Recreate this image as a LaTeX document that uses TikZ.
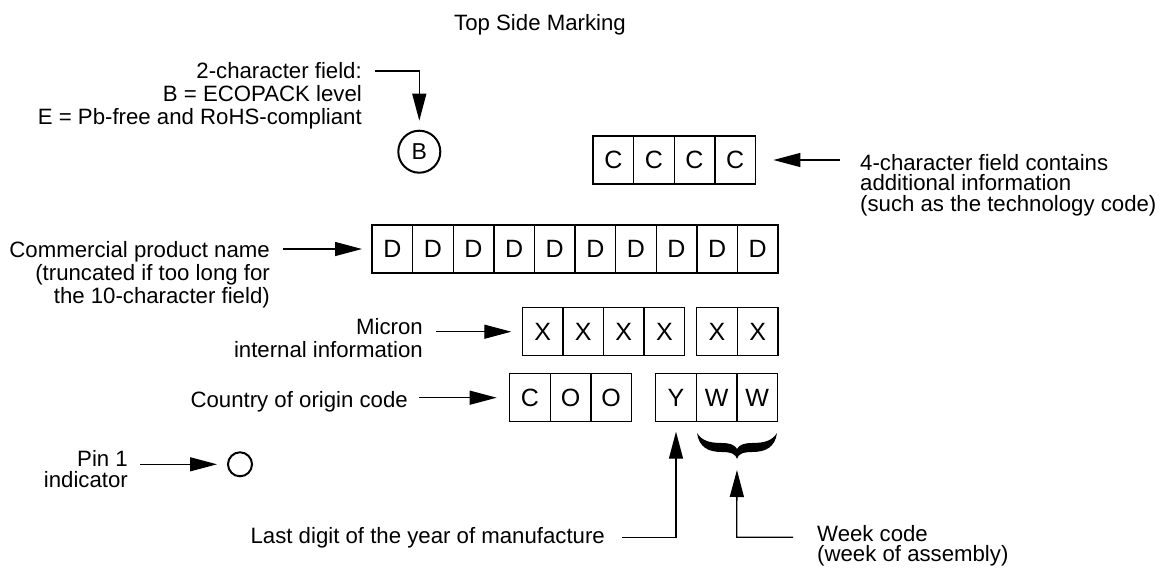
\documentclass[tikz,border=0pt]{standalone}
\usepackage{fontspec}
\setmainfont{Liberation Sans}
\usetikzlibrary{shapes.geometric, arrows.meta, positioning}
\newcommand{\notefont}{\fontsize{22.2}{23}\selectfont}
\newcommand{\notefontb}{\fontsize{22.2}{20.5}\selectfont}
\newcommand{\cellfont}{\fontsize{25}{25}\selectfont}
\tikzstyle{cell} = [rectangle, minimum width=40.6pt, minimum height=48pt, inner sep=0pt, outer sep=0pt, text centered, draw=black, line width=1.4pt, font=\cellfont]
\tikzstyle{ring} = [circle, draw=black, line width=2pt, inner sep=0pt]
\tikzstyle{note} = [inner sep=0pt, font=\notefont]
\tikzstyle{arrow} = [line width=1.3pt, -{Triangle[length=27pt,width=14pt]}]

\begin{document}
\begin{tikzpicture}[x=1pt, y=-1pt]
\useasboundingbox (0,0) rectangle (1159,568);

\node (title) [note] at (540,25) {Top Side Marking};

% 2-character field
\node (bnote) [note, align=right, anchor=east] at (362,96) {2-character field:\\B = ECOPACK level\\E = Pb-free and RoHS-compliant};
\node (bmark) [ring, minimum size=42pt, font=\fontsize{23}{23}\selectfont] at (419.3,151.7) {B};
\coordinate (bcorner) at (419.3,71);

% 4-character field
\node (cc1) [cell] at (613.3,160) {C};
\node (cc2) [cell, right=0pt of cc1] {C};
\node (cc3) [cell, right=0pt of cc2] {C};
\node (cc4) [cell, right=0pt of cc3] {C};
\node (cnote) [note, align=left, anchor=west, font=\notefontb] at (860,185) {4-character field contains\\additional information\\(such as the technology code)};

% product name
\node (dnote) [note, align=right, anchor=east] at (270,275) {Commercial product name\\(truncated if too long for\\the 10-character field)};
\node (d1) [cell] at (392.3,249) {D};
\node (d2) [cell, right=0pt of d1] {D};
\node (d3) [cell, right=0pt of d2] {D};
\node (d4) [cell, right=0pt of d3] {D};
\node (d5) [cell, right=0pt of d4] {D};
\node (d6) [cell, right=0pt of d5] {D};
\node (d7) [cell, right=0pt of d6] {D};
\node (d8) [cell, right=0pt of d7] {D};
\node (d9) [cell, right=0pt of d8] {D};
\node (d10) [cell, right=0pt of d9] {D};

% Micron information
\node (xnote) [note, align=right, anchor=east] at (423,338) {Micron\\internal information};
\node (x1) [cell] at (542.6,331.7) {X};
\node (x2) [cell, right=0pt of x1] {X};
\node (x3) [cell, right=0pt of x2] {X};
\node (x4) [cell, right=0pt of x3] {X};
\node (x5) [cell] at (717,331.7) {X};
\node (x6) [cell, right=0pt of x5] {X};

% origin and date
\node (conote) [note, anchor=east] at (408,402) {Country of origin code};
\node (co1) [cell] at (530,397.7) {C};
\node (co2) [cell, right=0pt of co1] {O};
\node (co3) [cell, right=0pt of co2] {O};
\node (y1) [cell] at (676,397.7) {Y};
\node (w1) [cell, right=0pt of y1] {W};
\node (w2) [cell, right=0pt of w1] {W};

% pin 1
\node (pinnote) [note, align=right, anchor=east, font=\notefontb] at (128,469) {Pin 1\\indicator};
\node (pin) [ring, minimum size=24pt] at (240,464.3) {};

\node (ynote) [note, anchor=east] at (605,537.5) {Last digit of the year of manufacture};
\node (wnote) [note, align=left, anchor=west, font=\notefontb] at (817,546) {Week code\\(week of assembly)};
\coordinate (wcorner) at (736.7,537.3);
\coordinate (bracetip) at (737,459);

\fill (697,433) .. controls (699,447) and (708,452) .. (722,452) .. controls (731,452) and (736,454) .. (bracetip)
  .. controls (738,454) and (743,452) .. (752,452) .. controls (766,452) and (775,447) .. (777,433)
  .. controls (772,441) and (764,443) .. (752,443) .. controls (744,443) and (739,445) .. (737,449)
  .. controls (735,445) and (730,443) .. (722,443) .. controls (710,443) and (702,441) .. (697,433) -- cycle;

\draw [arrow, shorten <=13pt, shorten >=9pt] (bnote.east |- bcorner) -- (bcorner) -- (bmark);
\draw [arrow, shorten <=20pt, shorten >=18pt] (cnote.west |- cc4) -- (cc4);
\draw [arrow, shorten <=13pt, shorten >=10pt] (dnote.east |- d1) -- (d1);
\draw [arrow, shorten <=13pt, shorten >=11pt] (xnote.east |- x1) -- (x1);
\draw [arrow, shorten <=11pt, shorten >=13pt] (conote.east |- co1) -- (co1);
\draw [arrow, shorten <=12pt, shorten >=10pt] (pinnote.east |- pin) -- (pin);
\draw [arrow, shorten <=17pt, shorten >=10pt] (ynote) -| (y1);
\draw [arrow, shorten <=24pt, shorten >=11pt] (wnote.west |- wcorner) -- (wcorner) -- (bracetip);

\end{tikzpicture}
\end{document}
